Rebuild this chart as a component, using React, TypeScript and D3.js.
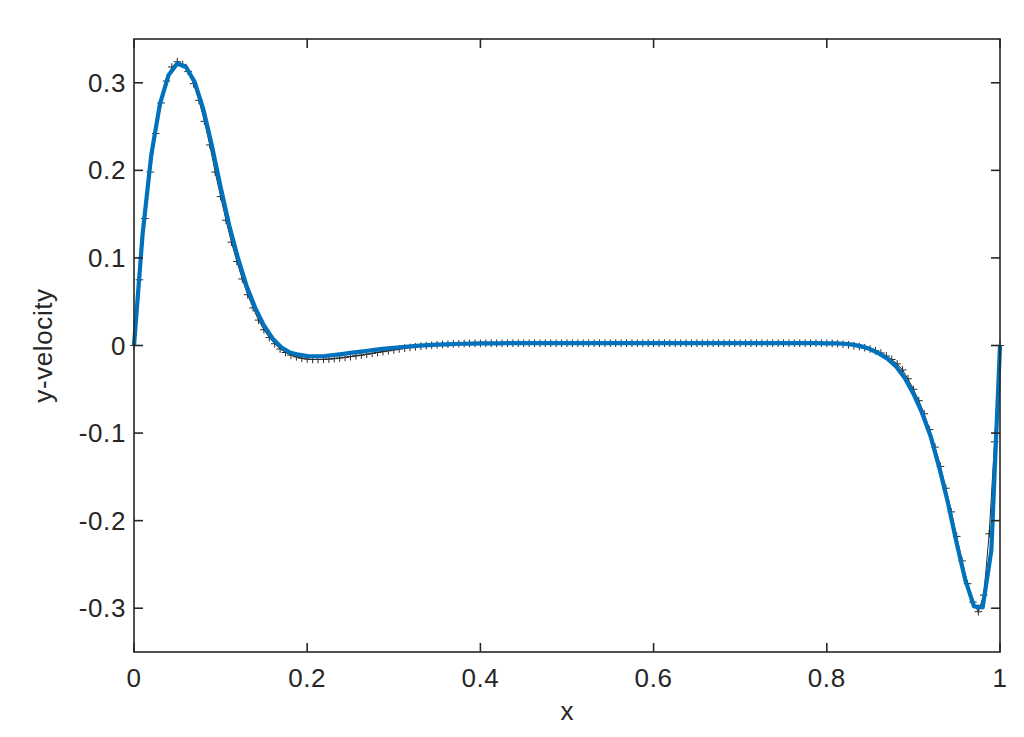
import React from "react";
import * as d3 from "d3";

// Reference solution (black "+" markers), x = k/160
const refY: number[] = [
  0, 0.075, 0.145, 0.198, 0.242, 0.277, 0.302, 0.318, 0.324, 0.321,
  0.313, 0.299, 0.28, 0.256, 0.229, 0.198, 0.17, 0.143, 0.118, 0.096,
  0.076, 0.058, 0.043, 0.029, 0.018, 0.009, 0.002, -0.004, -0.008, -0.011,
  -0.013, -0.0145, -0.0155, -0.016, -0.016, -0.0158, -0.0155, -0.015, -0.0143, -0.0135,
  -0.0127, -0.0118, -0.011, -0.01, -0.009, -0.008, -0.007, -0.006, -0.005, -0.004,
  -0.003, -0.0022, -0.0015, -0.0008, -0.0002, 0.0003, 0.0008, 0.0012, 0.0015, 0.0018,
  0.002, 0.0022, 0.0023, 0.0024, 0.0024, 0.0025, 0.0025, 0.0025, 0.0026, 0.0026,
  0.0026, 0.0026, 0.0026, 0.0026, 0.0026, 0.0026, 0.0026, 0.0026, 0.0026, 0.0026,
  0.0026, 0.0026, 0.0026, 0.0026, 0.0026, 0.0026, 0.0026, 0.0026, 0.0026, 0.0026,
  0.0026, 0.0026, 0.0026, 0.0026, 0.0026, 0.0026, 0.0026, 0.0026, 0.0026, 0.0026,
  0.0026, 0.0026, 0.0026, 0.0026, 0.0026, 0.0026, 0.0026, 0.0026, 0.0026, 0.0026,
  0.0026, 0.0026, 0.0026, 0.0026, 0.0026, 0.0026, 0.0026, 0.0026, 0.0026, 0.0026,
  0.0026, 0.0026, 0.0026, 0.0026, 0.0026, 0.0026, 0.0026, 0.0026, 0.0025, 0.0024,
  0.002, 0.0015, 0.0008, -0.0002, -0.0012, -0.0025, -0.004, -0.006, -0.0085, -0.012,
  -0.016, -0.021, -0.028, -0.038, -0.05, -0.063, -0.078, -0.096, -0.116, -0.138,
  -0.163, -0.19, -0.218, -0.246, -0.272, -0.293, -0.304, -0.285, -0.215, -0.11,
  0,
];
const refN = 160;

// Computed solution (blue line), x = i/100
const simY: number[] = [
  0, 0.128, 0.218, 0.276, 0.309, 0.322, 0.318, 0.301, 0.27, 0.228,
  0.181, 0.137, 0.1, 0.068, 0.043, 0.023, 0.008, -0.002, -0.008, -0.0105,
  -0.012, -0.0125, -0.012, -0.011, -0.0098, -0.0085, -0.0072, -0.006, -0.0048, -0.0036,
  -0.0026, -0.0017, -0.0009, -0.0002, 0.0004, 0.0009, 0.0013, 0.0017, 0.002, 0.0022,
  0.0024, 0.0025, 0.0025, 0.0026, 0.0026, 0.0026, 0.0026, 0.0026, 0.0026, 0.0026,
  0.0026, 0.0026, 0.0026, 0.0026, 0.0026, 0.0026, 0.0026, 0.0026, 0.0026, 0.0026,
  0.0026, 0.0026, 0.0026, 0.0026, 0.0026, 0.0026, 0.0026, 0.0026, 0.0026, 0.0026,
  0.0026, 0.0026, 0.0026, 0.0026, 0.0026, 0.0026, 0.0026, 0.0026, 0.0026, 0.0026,
  0.0025, 0.0024, 0.002, 0.001, -0.001, -0.004, -0.009, -0.015, -0.024, -0.037,
  -0.055, -0.077, -0.104, -0.14, -0.18, -0.226, -0.268, -0.298, -0.299, -0.234,
  0,
];
const simN = 100;

const xTicks: number[] = [0, 0.2, 0.4, 0.6, 0.8, 1];
const xTickLabels: string[] = ["0", "0.2", "0.4", "0.6", "0.8", "1"];
const yTicks: number[] = [-0.3, -0.2, -0.1, 0, 0.1, 0.2, 0.3];
const yTickLabels: string[] = ["-0.3", "-0.2", "-0.1", "0", "0.1", "0.2", "0.3"];

const W = 1024;
const H = 737;
const L = 134;
const R = 1000;
const T = 39;
const B = 652;
const FONT = "'Liberation Sans', Arial, Helvetica, sans-serif";
const FS = 26;
const LS = 0.6;
const AX = "#262626";

export default function App() {
  const x = d3.scaleLinear().domain([0, 1]).range([L, R]);
  const y = d3.scaleLinear().domain([-0.35, 0.35]).range([B, T]);

  const refPts: [number, number][] = refY.map((v, k) => [k / refN, v]);
  const simPts: [number, number][] = simY.map((v, i) => [i / simN, v]);

  const line = d3
    .line<[number, number]>()
    .x((d) => x(d[0]))
    .y((d) => y(d[1]));

  const ms = 3.8;
  const markerPath = refPts
    .map((d) => {
      const px = x(d[0]);
      const py = y(d[1]);
      return `M${px - ms},${py}H${px + ms}M${px},${py - ms}V${py + ms}`;
    })
    .join("");

  const tickLen = 9;

  return (
    <svg
      width={W}
      height={H}
      style={{ position: "absolute", left: 0, top: 0, background: "#fff" }}
    >
      <rect x={0} y={0} width={W} height={H} fill="#fff" />
      {/* reference line + markers */}
      <path d={line(refPts) || ""} fill="none" stroke="#2a2a2a" strokeWidth={1} />
      <path d={markerPath} fill="none" stroke="#2a2a2a" strokeWidth={1} />
      {/* computed line */}
      <path
        d={line(simPts) || ""}
        fill="none"
        stroke="#0072BD"
        strokeWidth={4.2}
        strokeLinejoin="round"
      />

      {/* axes box */}
      <rect
        x={L}
        y={T}
        width={R - L}
        height={B - T}
        fill="none"
        stroke={AX}
        strokeWidth={1.6}
      />
      {/* x ticks */}
      {xTicks.map((t, i) => (
        <g key={"xt" + i}>
          <line x1={x(t)} x2={x(t)} y1={B} y2={B - tickLen} stroke={AX} strokeWidth={1.6} />
          <line x1={x(t)} x2={x(t)} y1={T} y2={T + tickLen} stroke={AX} strokeWidth={1.6} />
          <text
            x={x(t)}
            y={B + 35}
            textAnchor="middle"
            fontFamily={FONT}
            fontSize={FS}
            letterSpacing={LS}
            fill={AX}
          >
            {xTickLabels[i]}
          </text>
        </g>
      ))}
      {/* y ticks */}
      {yTicks.map((t, i) => (
        <g key={"yt" + i}>
          <line x1={L} x2={L + tickLen} y1={y(t)} y2={y(t)} stroke={AX} strokeWidth={1.6} />
          <line x1={R} x2={R - tickLen} y1={y(t)} y2={y(t)} stroke={AX} strokeWidth={1.6} />
          <text
            x={L - 8}
            y={y(t) + 9}
            textAnchor="end"
            fontFamily={FONT}
            fontSize={FS}
            letterSpacing={LS}
            fill={AX}
          >
            {yTickLabels[i]}
          </text>
        </g>
      ))}
      <text
        x={(L + R) / 2}
        y={720}
        textAnchor="middle"
        fontFamily={FONT}
        fontSize={FS}
        fill={AX}
      >
        x
      </text>
      <text
        transform={`translate(52,${(T + B) / 2}) rotate(-90)`}
        textAnchor="middle"
        fontFamily={FONT}
        fontSize={FS}
        letterSpacing={LS}
        fill={AX}
      >
        y-velocity
      </text>
    </svg>
  );
}
